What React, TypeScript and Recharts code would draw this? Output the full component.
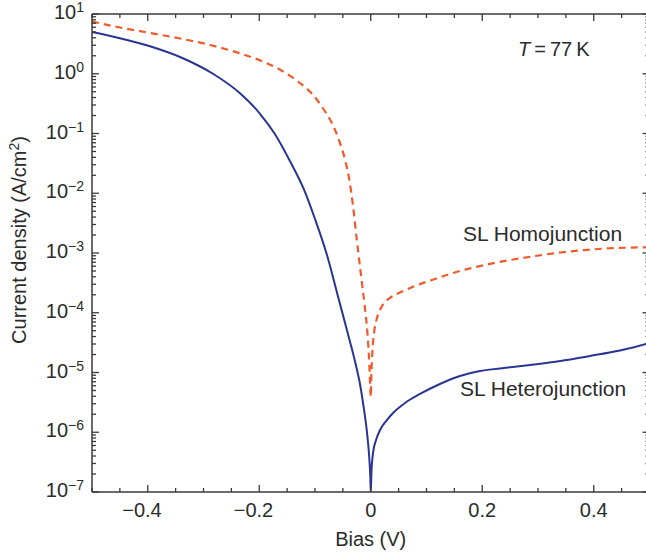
import { LineChart, Line, XAxis, YAxis } from "recharts";

// Heterojunction (solid blue) - bias (V) and current density (A/cm2)
const heteroBias = [
  -0.5, -0.45, -0.396, -0.337, -0.283, -0.234, -0.199, -0.172, -0.145, -0.121, -0.1, -0.078, -0.059,
  -0.039, -0.028, -0.019, -0.012, -0.0066, -0.0025, -0.0007, 0, 0.0014, 0.0041, 0.0095, 0.0167, 0.0275,
  0.04, 0.0615, 0.0884, 0.124, 0.16, 0.196, 0.232, 0.286, 0.34, 0.393, 0.447, 0.494, 0.5,
];
const heteroJ = [
  5.0, 3.94, 2.88, 1.82, 1.0, 0.467, 0.216, 0.098, 0.0347, 0.01225, 3.71e-3, 8.91e-4, 1.91e-4,
  3.78e-5, 1.5e-5, 6.18e-6, 2.36e-6, 9.7e-7, 3.56e-7, 1.71e-7, 1e-7, 2.33e-7, 4.5e-7, 7.41e-7, 1.09e-6, 1.54e-6,
  2.1e-6, 3.09e-6, 4.37e-6, 6.42e-6, 8.74e-6, 1.06e-5, 1.17e-5, 1.34e-5, 1.56e-5, 1.89e-5, 2.33e-5, 3.0e-5, 3.12e-5,
];

// Homojunction (dashed red)
const homoBias = [
  -0.5, -0.45, -0.396, -0.342, -0.288, -0.234, -0.189, -0.154, -0.127, -0.105, -0.086, -0.069, -0.057,
  -0.046, -0.039, -0.032, -0.025, -0.0175, -0.0111, -0.0057, -0.0025, -0.0007, 0, 0.0011, 0.0029, 0.0059,
  0.0113, 0.0203, 0.0346, 0.0526, 0.0795, 0.115, 0.16, 0.205, 0.25, 0.295, 0.34, 0.384, 0.429, 0.465, 0.5,
];
const homoJ = [
  7.49, 5.95, 4.81, 3.89, 3.03, 2.18, 1.54, 1.05, 0.7, 0.458, 0.267, 0.144, 0.0778,
  0.036, 0.018, 6.35e-3, 1.65e-3, 4.28e-4, 1.35e-4, 4.25e-5, 1.34e-5, 5.1e-6, 3.9e-6, 9.08e-6, 2.2e-5, 4.58e-5,
  8.17e-5, 1.3e-4, 1.77e-4, 2.18e-4, 2.81e-4, 3.67e-4, 5.0e-4, 6.3e-4, 7.64e-4, 8.91e-4, 1.02e-3, 1.12e-3, 1.2e-3, 1.23e-3, 1.25e-3,
];

const xTicks = [
  -0.5, -0.45, -0.4, -0.35, -0.3, -0.25, -0.2, -0.15, -0.1, -0.05, 0, 0.05, 0.1, 0.15, 0.2, 0.25, 0.3,
  0.35, 0.4, 0.45, 0.5,
];
const xLabels = [-0.4, -0.2, 0, 0.2, 0.4];
const decades = [-7, -6, -5, -4, -3, -2, -1, 0, 1];

const heteroData = heteroBias.map((v, i) => ({ v, j: heteroJ[i] }));
const homoData = homoBias.map((v, i) => ({ v, j: homoJ[i] }));

const yTicks: number[] = [];
decades.forEach((d) => {
  yTicks.push(Math.pow(10, d));
  if (d < 1) for (let m = 2; m <= 9; m++) yTicks.push(m * Math.pow(10, d));
});

const FONT = "'Liberation Sans', Arial, Helvetica, sans-serif";
const INK = "#2b2b2b";
const AXIS = "#3a3a3a";

const W = 660;
const H = 555;
// axes are 1px thick boxes, so margins are one pixel short of the plot edges
const M = { top: 13, right: 9.5, bottom: 62, left: 91 };

const isMajorX = (v: number) => xLabels.some((l) => Math.abs(l - v) < 1e-9);
const isMajorY = (v: number) => Math.abs(Math.log10(v) - Math.round(Math.log10(v))) < 1e-9;

function XTick(props: any) {
  const { x, y, payload, top } = props;
  const v = payload.value;
  const major = isMajorX(v);
  const len = major ? 7 : 4;
  const dir = top ? 1 : -1;
  const neg = v < 0;
  const txt = neg ? "\u2212" + Math.abs(v).toString() : v.toString();
  return (
    <g>
      <line x1={x} x2={x} y1={y} y2={y + dir * len} stroke={AXIS} strokeWidth={1.3} />
      {!top && major && (
        <text
          x={neg ? x - 5.8 : x}
          y={y + 25}
          textAnchor="middle"
          fontFamily={FONT}
          fontSize={20}
          fill={INK}
        >
          {txt}
        </text>
      )}
    </g>
  );
}

function YTick(props: any) {
  const { x, y, payload, right } = props;
  const v = payload.value;
  const major = isMajorY(v);
  const len = major ? 7 : 4;
  const dir = right ? -1 : 1;
  const exp = Math.round(Math.log10(v));
  return (
    <g>
      <line x1={x} x2={x + dir * len} y1={y} y2={y} stroke={AXIS} strokeWidth={1.3} />
      {!right && major && (
        <text x={x - 8} y={y + 5} textAnchor="end" fontFamily={FONT} fontSize={20} fill={INK}>
          10
          <tspan dy={-7} fontSize={14}>
            {exp < 0 ? "\u2212" + Math.abs(exp) : exp}
          </tspan>
        </text>
      )}
    </g>
  );
}

export default function App() {
  const axisLine = { stroke: AXIS, strokeWidth: 1.5 };
  return (
    <div
      style={{
        position: "absolute",
        left: 0,
        top: 0,
        width: 646,
        height: 555,
        overflow: "hidden",
        background: "#fff",
      }}
    >
      <LineChart width={W} height={H} data={heteroData} margin={M}>
        <XAxis
          xAxisId="b"
          dataKey="v"
          type="number"
          domain={[-0.5, 0.5]}
          allowDataOverflow
          ticks={xTicks}
          interval={0}
          height={1}
          tickSize={0}
          tickMargin={0}
          tickLine={false}
          axisLine={axisLine}
          tick={<XTick />}
        />
        <XAxis
          xAxisId="t"
          orientation="top"
          dataKey="v"
          type="number"
          domain={[-0.5, 0.5]}
          allowDataOverflow
          ticks={xTicks}
          interval={0}
          height={1}
          tickSize={0}
          tickMargin={0}
          tickLine={false}
          axisLine={axisLine}
          tick={<XTick top />}
        />
        <YAxis
          yAxisId="l"
          scale="log"
          type="number"
          domain={[1e-7, 10]}
          allowDataOverflow
          ticks={yTicks}
          interval={0}
          width={1}
          tickSize={0}
          tickMargin={0}
          tickLine={false}
          axisLine={axisLine}
          tick={<YTick />}
        />
        <YAxis
          yAxisId="r"
          orientation="right"
          scale="log"
          type="number"
          domain={[1e-7, 10]}
          allowDataOverflow
          ticks={yTicks}
          interval={0}
          width={1}
          tickSize={0}
          tickMargin={0}
          tickLine={false}
          axisLine={axisLine}
          tick={<YTick right />}
        />
        <Line
          xAxisId="b"
          yAxisId="l"
          data={homoData}
          dataKey="j"
          type="monotone"
          stroke="#f15a2b"
          strokeWidth={2.2}
          strokeDasharray="7 5"
          dot={false}
          activeDot={false}
          isAnimationActive={false}
        />
        <Line
          xAxisId="b"
          yAxisId="l"
          data={heteroData}
          dataKey="j"
          type="monotone"
          stroke="#2a3593"
          strokeWidth={2}
          dot={false}
          activeDot={false}
          isAnimationActive={false}
        />
      </LineChart>
      <svg
        width={646}
        height={555}
        style={{ position: "absolute", left: 0, top: 0, pointerEvents: "none" }}
        fontFamily={FONT}
        fill={INK}
      >
        <text x={370.7} y={546} textAnchor="middle" fontSize={20}>
          Bias (V)
        </text>
        <text x={26} y={240} textAnchor="middle" fontSize={20} transform="rotate(-90 26 240)">
          Current density (A/cm
          <tspan dy={-7} fontSize={14}>
            2
          </tspan>
          <tspan dy={7}>)</tspan>
        </text>
        <text x={518} y={56} fontSize={20}>
          <tspan fontStyle="italic">T</tspan>
          {"\u2009=\u200977\u2009K"}
        </text>
        <text x={463} y={241} fontSize={21}>
          SL Homojunction
        </text>
        <text x={460} y={396} fontSize={21}>
          SL Heterojunction
        </text>
      </svg>
    </div>
  );
}
